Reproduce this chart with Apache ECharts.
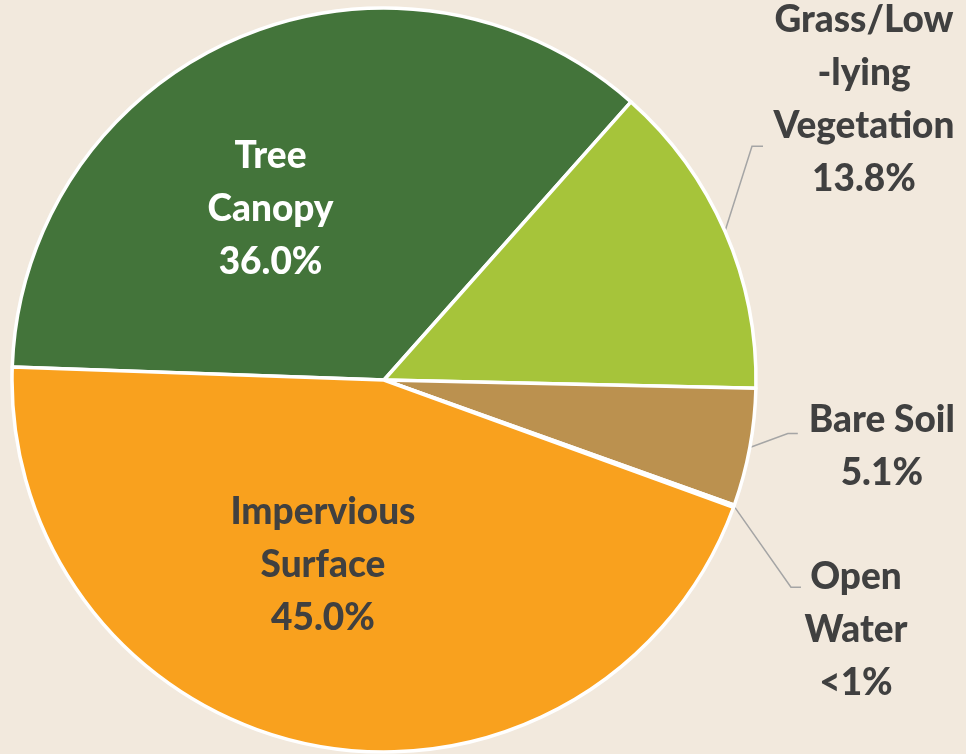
<!DOCTYPE html>
<html>
<head>
<meta charset="utf-8">
<script src="https://cdn.jsdelivr.net/npm/echarts@6/dist/echarts.min.js"></script>
<style>
  html, body { margin: 0; padding: 0; background: #f2e9dd; }
  #chart { width: 966px; height: 754px; }
</style>
</head>
<body>
<div id="chart"></div>
<script>
// land cover shares, clockwise from the left edge
const names = ["Tree\nCanopy", "Grass/Low\n-lying\nVegetation", "Bare Soil", "Open\nWater", "Impervious\nSurface"];
const values = [36.0, 13.8, 5.1, 0.1, 45.0];
const shown = ["36.0%", "13.8%", "5.1%", "<1%", "45.0%"];
const colors = ["#43743a", "#a6c43a", "#bb914f", "#5b9bd5", "#f9a11e"];
const textColors = ["#ffffff", "#404040", "#404040", "#404040", "#404040"];

// label placement tweaks (which labels sit inside the pie)
const inside = { 0: [-39, 3], 4: [-25, 0] };
const outside = {
  1: { bend: [27, -85], run: 11, text: [101, -47] },
  2: { bend: [38, -14], run: 10, text: [84, 13] },
  3: { bend: [57, 81], run: 10, text: [55, 43] }
};

let chart = echarts.init(document.getElementById("chart"));

let option = {
  backgroundColor: "#f2e9dd",
  animation: false,
  textStyle: { fontFamily: "Lato" },
  series: [
    {
      type: "pie",
      center: [384, 380],
      radius: 372,
      startAngle: 178,
      clockwise: true,
      avoidLabelOverlap: false,
      itemStyle: { borderColor: "#ffffff", borderWidth: 3.5 },
      label: {
        show: true,
        position: "outside",
        fontFamily: "Lato",
        fontWeight: 900,
        fontSize: 37,
        lineHeight: 53,
        color: "#404040",
        align: "center",
        formatter: (p) => names[p.dataIndex] + "\n" + shown[p.dataIndex]
      },
      labelLine: {
        show: true,
        length: 20,
        length2: 10,
        smooth: false,
        lineStyle: { color: "#a5a5a5", width: 1.5 }
      },
      labelLayout: function (p) {
        const i = p.dataIndex;
        if (inside[i]) {
          return { dx: inside[i][0], dy: inside[i][1] };
        }
        const o = outside[i];
        if (!o || !p.labelLinePoints) return {};
        const s = p.labelLinePoints[0];
        const b = [s[0] + o.bend[0], s[1] + o.bend[1]];
        const e = [b[0] + o.run, b[1]];
        return {
          x: e[0] + o.text[0],
          y: e[1] + o.text[1],
          align: "center",
          verticalAlign: "middle",
          labelLinePoints: [s, b, e]
        };
      },
      data: values.map((v, i) => ({
        value: v,
        name: names[i],
        itemStyle: { color: colors[i] },
        label: inside[i] !== undefined
          ? { position: "inside", color: textColors[i] }
          : { color: textColors[i] },
        labelLine: inside[i] !== undefined ? { show: false } : {}
      }))
    }
  ]
};

chart.setOption(option);
</script>
</body>
</html>
